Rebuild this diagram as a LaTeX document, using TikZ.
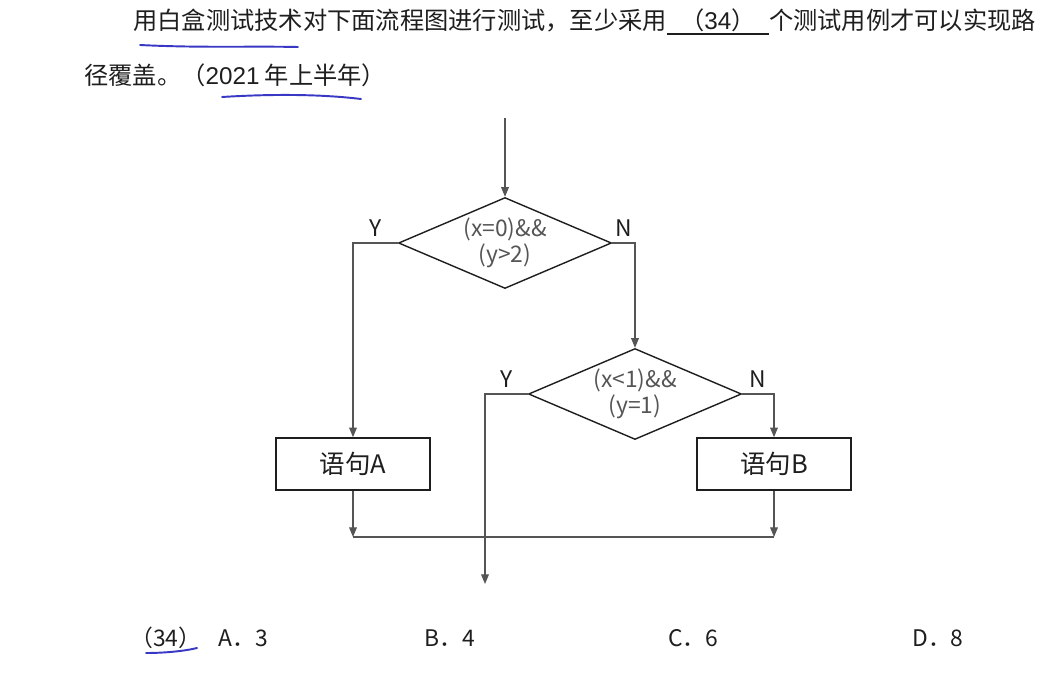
\documentclass[tikz,border=0pt]{standalone}
\usepackage{fontspec}
\setmainfont{Liberation Sans}
\newfontfamily\cjk{Noto Sans CJK SC}
\usetikzlibrary{positioning, shapes.geometric, arrows.meta}

\definecolor{ink}{HTML}{1E1E1E}
\definecolor{flowgray}{HTML}{555555}
\definecolor{pen}{HTML}{3838C4}

\tikzstyle{cond} = [diamond, draw=ink, line width=0.8pt, inner sep=0pt,
   shape aspect=2.3, minimum width=4.26cm, minimum height=1.82cm,
   align=center, text=flowgray, font=\cjk\fontsize{13}{14.8}\selectfont]
\tikzstyle{stmt} = [rectangle, draw=ink, line width=0.9pt,
   minimum width=3.08cm, minimum height=1.04cm, text=ink,
   font=\cjk\fontsize{14.5}{16}\selectfont]
\tikzstyle{flow} = [draw=flowgray, line width=0.65pt,
   -{Triangle[length=5.5pt,width=4.4pt]}]
\tikzstyle{yn} = [text=ink, font=\cjk\fontsize{13}{15}\selectfont]
\tikzstyle{qtext} = [anchor=base west, inner sep=0pt, text=ink,
   font=\cjk\fontsize{13.8}{16}\selectfont]
\tikzstyle{opt} = [anchor=base west, inner sep=0pt, text=ink,
   font=\cjk\fontsize{13}{16}\selectfont]
\tikzstyle{penline} = [draw=pen, line width=1.1pt, line cap=round]

\begin{document}
\begin{tikzpicture}[x=0.02cm, y=-0.02cm]
	  \useasboundingbox (0,0) rectangle (1061,693);

	  % question text
	  \node[qtext] (q1) at (133,30) {用白盒测试技术对下面流程图进行测试，至少采用};
	  \node[qtext, minimum width=2.02cm] (q2) at (q1.base east) {（{\rmfamily 34}）};
	  \node[qtext] (q3) at (q2.base east) {个测试用例才可以实现路};
	  \node[qtext] (q4) at (84,84) {径覆盖。（{\rmfamily 2021} 年上半年）};
	  \draw[ink, line width=1.1pt] ([yshift=-2.3pt]q2.base west) -- ([yshift=-2.3pt]q2.base east);

	  % flowchart
	  \coordinate (entry) at (505,118);
	  \node[cond] (d1) at (505,243) {(x=0)\&\&\\(y>2)};
	  \node[cond] (d2) at (635,394) {(x<1)\&\&\\(y=1)};
	  \node[stmt] (a) at (353,464) {语句A};
	  \node[stmt] (b) at (774,464) {语句B};
	  \coordinate (ja) at (353,537);
	  \coordinate (jb) at (774,537);
	  \coordinate (exit) at (485,584); % loose end

	  \draw[flow] (entry) -- (d1.north);
	  \draw[flow] (d1.west) -| node[yn, pos=0.25, above] {Y} (a.north);
	  \draw[flow] (d1.east) -| node[yn, pos=0.25, above] {N} (d2.north);
	  \draw[flow] (d2.west) -| node[yn, pos=0.25, above] {Y} (exit);
	  \draw[flow] (d2.east) -| node[yn, pos=0.25, above] {N} (b.north);
	  \draw[flow] (a) -- (ja);
	  \draw[flow] (b) -- (jb);
	  \draw[draw=flowgray, line width=0.65pt] (ja) -- (jb);

	  % answers
	  \node[opt] (o0) at (130,646) {（34）};
	  \node[opt] (oa) at (218,646) {A．3};
	  \node[opt] (ob) at (424,646) {B．4};
	  \node[opt] (oc) at (668,646) {C．6};
	  \node[opt] (od) at (912,646) {D．8};

	  % pen marks
	  \draw[penline] (140,45) .. controls (200,48) and (250,46) .. (298,47);
	  \draw[penline] (222,97) .. controls (270,94) and (320,94) .. (361,99);
	  \draw[penline] (146,653) .. controls (165,653) and (185,651) .. (197,648);
	\end{tikzpicture}
\end{document}
